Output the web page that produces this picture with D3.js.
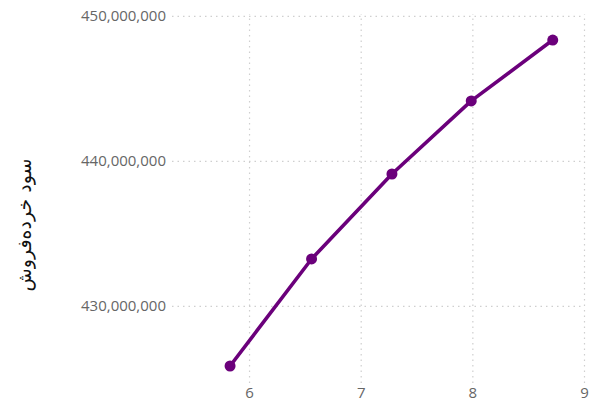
<!DOCTYPE html>
<html>
<head>
<meta charset="utf-8">
<script src="https://cdn.jsdelivr.net/npm/d3@7"></script>
<style>
  html, body { margin: 0; padding: 0; background: #fff; }
  svg { display: block; }
</style>
</head>
<body>
<svg id="chart" width="589" height="405"></svg>
<script>
// Retail profit by period
const xValues = [5.83, 6.56, 7.28, 7.99, 8.72];
const profitValues = [425860000, 433240000, 439100000, 444140000, 448340000];
const xTicks = [6, 7, 8, 9];
const yTicks = [430000000, 440000000, 450000000];
const yTitle = "سود خرده‌فروش";

const svg = d3.select("#chart");
const plotLeft = 172, plotRight = 584, plotTop = 10, plotBottom = 385;

const x = d3.scaleLinear().domain([5.31, 9.0]).range([plotLeft, plotRight]);
const y = d3.scaleLinear().domain([424550000, 450410000]).range([plotBottom, plotTop]);

const gridColor = "#cfcfcf";
const labelColor = "#666666";
const fontFamily = "'Open Sans', 'Segoe UI', sans-serif";

// Horizontal gridlines + y axis labels
const yAxis = d3.axisLeft(y).tickValues(yTicks)
  .tickFormat(d3.format(",")).tickSize(-(plotRight - plotLeft)).tickPadding(6);
const gy = svg.append("g").attr("transform", `translate(${plotLeft},0)`).call(yAxis);
gy.select(".domain").remove();
gy.selectAll(".tick line").attr("stroke", gridColor).attr("stroke-width", 1.2)
  .attr("stroke-dasharray", "1.5,4");
gy.selectAll(".tick text").attr("fill", labelColor)
  .style("font-family", fontFamily).style("font-size", "15px");

// Vertical gridlines + x axis labels
const xAxis = d3.axisBottom(x).tickValues(xTicks)
  .tickFormat(d3.format("d")).tickSize(-(plotBottom - plotTop - 6)).tickPadding(4);
const gx = svg.append("g").attr("transform", `translate(0,${plotBottom - 2})`).call(xAxis);
gx.select(".domain").remove();
gx.selectAll(".tick line").attr("stroke", gridColor).attr("stroke-width", 1.2)
  .attr("stroke-dasharray", "1.5,4");
gx.selectAll(".tick text").attr("fill", labelColor)
  .style("font-family", fontFamily).style("font-size", "15px");

// Y axis title, reading top to bottom
svg.append("text")
  .attr("transform", `translate(31,225) rotate(-90)`)
  .attr("text-anchor", "middle")
  .attr("fill", "#111")
  .style("font-family", "'DejaVu Sans', sans-serif")
  .style("font-size", "19px")
  .attr("direction", "rtl")
  .text(yTitle);

// Line and markers
const data = xValues.map((v, i) => ({ x: v, y: profitValues[i] }));
const lineColor = "#6b007b";
svg.append("path")
  .datum(data)
  .attr("fill", "none")
  .attr("stroke", lineColor)
  .attr("stroke-width", 3.6)
  .attr("stroke-linejoin", "round")
  .attr("d", d3.line().x(d => x(d.x)).y(d => y(d.y)));

svg.selectAll("circle.pt")
  .data(data)
  .enter().append("circle")
  .attr("class", "pt")
  .attr("cx", d => x(d.x))
  .attr("cy", d => y(d.y))
  .attr("r", 5.5)
  .attr("fill", lineColor);
</script>
</body>
</html>
